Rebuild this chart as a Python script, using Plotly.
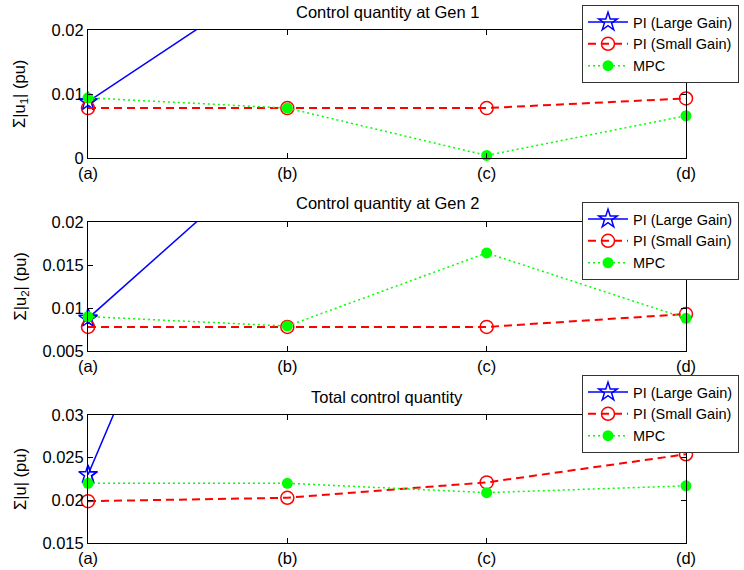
import plotly.graph_objects as go

# ---------------- data ----------------
cases = ["(a)", "(b)", "(c)", "(d)"]

gen1_pi_large = [0.0088, 0.0295, 0.034, 0.038]
gen1_pi_small = [0.0078, 0.0078, 0.0078, 0.0093]
gen1_mpc = [0.0094, 0.0078, 0.0004, 0.0066]

gen2_pi_large = [0.0088, 0.0294, 0.034, 0.038]
gen2_pi_small = [0.0078, 0.0078, 0.0078, 0.0093]
gen2_mpc = [0.0090, 0.0079, 0.0164, 0.0088]

total_pi_large = [0.0230, 0.0780, 0.070, 0.080]
total_pi_small = [0.0199, 0.0203, 0.0221, 0.0254]
total_mpc = [0.0220, 0.0220, 0.0209, 0.0217]

titles = ["Control quantity at Gen 1", "Control quantity at Gen 2", "Total control quantity"]
ytitles = ["Σ|u<sub>1</sub>| (pu)", "Σ|u<sub>2</sub>| (pu)", "Σ|u| (pu)"]
yranges = [[0, 0.02], [0.005, 0.02], [0.015, 0.03]]
ytickvals = [[0, 0.01, 0.02], [0.005, 0.01, 0.015, 0.02], [0.015, 0.02, 0.025, 0.03]]
yticktext = [["0", "0.01", "0.02"], ["0.005", "0.01", "0.015", "0.02"],
             ["0.015", "0.02", "0.025", "0.03"]]
series_names = ["PI (Large Gain)", "PI (Small Gain)", "MPC"]

panels = [
    (gen1_pi_large, gen1_pi_small, gen1_mpc),
    (gen2_pi_large, gen2_pi_small, gen2_mpc),
    (total_pi_large, total_pi_small, total_mpc),
]

# ---------------- layout geometry ----------------
W, H = 744, 570
ML, MR, MT, MB = 88, 58, 30, 27
plot_h = H - MT - MB  # 513
px_domains = [(30, 158), (222, 351), (415, 543)]  # top, bottom in px
legend_tops = [5, 202, 375]
title_ys = [12, 203, 397]
FONT = "Liberation Sans, Arial, sans-serif"


def py(p):
    return (H - MB - p) / plot_h


fig = go.Figure()
layout = dict(
    width=W, height=H,
    margin=dict(l=ML, r=MR, t=MT, b=MB, autoexpand=False),
    paper_bgcolor="white", plot_bgcolor="white",
    font=dict(family=FONT, size=16, color="black"),
    annotations=[],
)

for i, (pl, ps, mpc) in enumerate(panels):
    k = "" if i == 0 else str(i + 1)
    xa, ya = "x" + k, "y" + k
    leg = "legend" + k
    lo, hi = yranges[i]

    # PI (Large Gain): line + markers (clipped)
    fig.add_trace(go.Scatter(
        x=cases, y=pl, xaxis=xa, yaxis=ya, name=series_names[0], legend=leg,
        mode="lines+markers", cliponaxis=True,
        line=dict(color="#0000ff", width=1.5),
        marker=dict(symbol="star-open", size=14, color="#0000ff", line=dict(width=1.5)),
    ))
    # in-range markers not clipped at axis edge
    fig.add_trace(go.Scatter(
        x=cases, y=[v if lo <= v <= hi else None for v in pl], xaxis=xa, yaxis=ya,
        legend=leg, showlegend=False, mode="markers", cliponaxis=False,
        marker=dict(symbol="star-open", size=14, color="#0000ff", line=dict(width=1.5)),
        hoverinfo="skip",
    ))
    # PI (Small Gain)
    fig.add_trace(go.Scatter(
        x=cases, y=ps, xaxis=xa, yaxis=ya, name=series_names[1], legend=leg,
        mode="lines+markers", cliponaxis=False,
        line=dict(color="#ff0000", width=2, dash="8px,5px"),
        marker=dict(symbol="circle-open", size=13, color="#ff0000", line=dict(width=1.5)),
    ))
    # MPC
    fig.add_trace(go.Scatter(
        x=cases, y=mpc, xaxis=xa, yaxis=ya, name=series_names[2], legend=leg,
        mode="lines+markers", cliponaxis=False,
        line=dict(color="#00ff00", width=1.5, dash="2px,3px"),
        marker=dict(symbol="circle", size=11, color="#00ff00"),
    ))

    top, bot = px_domains[i]
    dom = [py(bot), py(top)]
    layout["xaxis" + k] = dict(
        domain=[0, 1], anchor=ya, type="category", range=[0, 3],
        showline=True, linecolor="black", linewidth=1, mirror="ticks",
        ticks="inside", ticklen=5, tickcolor="black", showgrid=False, zeroline=False,
        tickfont=dict(family=FONT, size=16.5, color="black"),
    )
    layout["yaxis" + k] = dict(
        domain=dom, anchor=xa, range=yranges[i],
        tickvals=ytickvals[i], ticktext=yticktext[i],
        showline=True, linecolor="black", linewidth=1, mirror="ticks",
        ticks="inside", ticklen=5, tickcolor="black", showgrid=False, zeroline=False,
        tickfont=dict(family=FONT, size=16.5, color="black"),
    )
    layout[leg] = dict(
        x=(582 - ML) / (W - ML - MR), xanchor="left", xref="paper",
        y=py(legend_tops[i]), yanchor="top", yref="paper",
        bgcolor="white", bordercolor="#333333", borderwidth=1,
        font=dict(family=FONT, size=14.5, color="black"),
        itemwidth=40, tracegroupgap=0,
    )
    layout["annotations"].append(dict(
        text=titles[i], xref="paper", yref="paper", x=0.5, y=py(title_ys[i]),
        xanchor="center", yanchor="middle", showarrow=False,
        font=dict(family=FONT, size=16.5, color="black"),
    ))
    layout["annotations"].append(dict(
        text=ytitles[i], xref="paper", yref="paper",
        x=(20 - ML) / (W - ML - MR), y=py((top + bot) / 2),
        xanchor="center", yanchor="middle", textangle=-90, showarrow=False,
        font=dict(family=FONT, size=16.5, color="black"),
    ))

fig.update_layout(**layout)
fig.write_html("out.html")
